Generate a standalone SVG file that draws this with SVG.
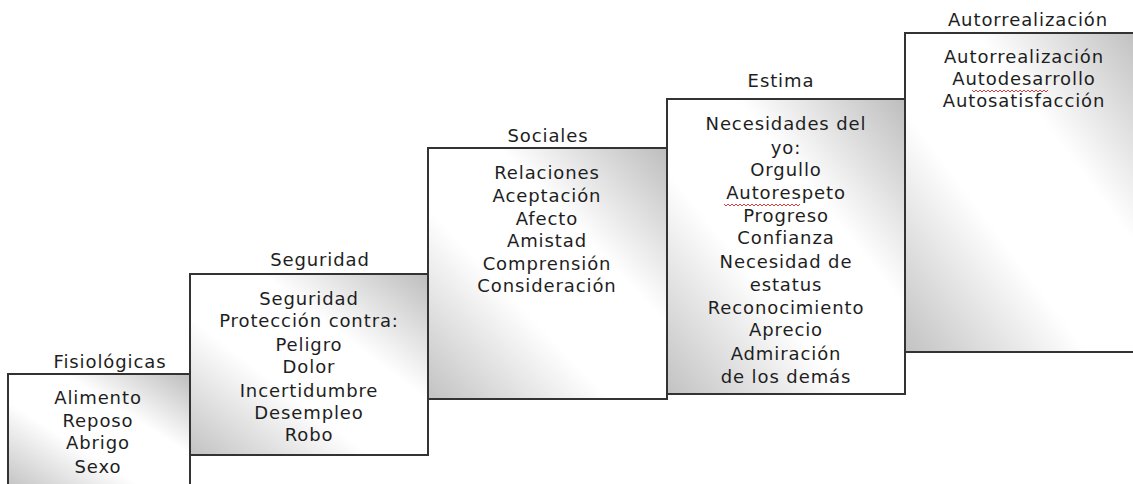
<svg xmlns="http://www.w3.org/2000/svg" width="1133" height="484" viewBox="0 0 1133 484">
<defs>
<linearGradient id="g" x1="1" y1="0" x2="0" y2="1">
<stop offset="0" stop-color="#bdbdbd"/>
<stop offset="0.35" stop-color="#ffffff"/>
<stop offset="0.62" stop-color="#ffffff"/>
<stop offset="1" stop-color="#c2c2c2"/>
</linearGradient>
</defs>
<style>
.box{fill:url(#g);stroke:#333;stroke-width:2}
text{font-family:"DejaVu Sans","Liberation Sans",sans-serif;font-size:18px;fill:#1e1e1e;text-anchor:middle;letter-spacing:0.9px}
.sq{fill:none;stroke:#d04040;stroke-width:1}
</style>
<rect width="1133" height="484" fill="#fff"/>
<g id="fisiologicas">
<rect class="box" x="8" y="374" width="182" height="115"/>
<text x="110" y="368">Fisiológicas</text>
<text x="98" y="404">Alimento</text>
<text x="98" y="427">Reposo</text>
<text x="98" y="449">Abrigo</text>
<text x="98" y="473">Sexo</text>
</g>
<g id="seguridad">
<rect class="box" x="190" y="274" width="238" height="181"/>
<text x="320" y="266">Seguridad</text>
<text x="309" y="305">Seguridad</text>
<text x="309" y="327">Protección contra:</text>
<text x="309" y="351">Peligro</text>
<text x="309" y="373">Dolor</text>
<text x="309" y="397">Incertidumbre</text>
<text x="309" y="419">Desempleo</text>
<text x="309" y="441">Robo</text>
</g>
<g id="sociales">
<rect class="box" x="428" y="148" width="239" height="251"/>
<text x="548" y="142">Sociales</text>
<text x="547" y="179">Relaciones</text>
<text x="547" y="202">Aceptación</text>
<text x="547" y="225">Afecto</text>
<text x="547" y="247">Amistad</text>
<text x="547" y="270">Comprensión</text>
<text x="547" y="292">Consideración</text>
</g>
<g id="estima">
<rect class="box" x="667" y="99" width="238" height="295"/>
<text x="781" y="87">Estima</text>
<text x="786" y="130">Necesidades del</text>
<text x="786" y="154">yo:</text>
<text x="786" y="176">Orgullo</text>
<text x="786" y="199">Autorespeto</text>
<path class="sq" d="M724 204 l2 2 l2 -2 l2 2 l2 -2 l2 2 l2 -2 l2 2 l2 -2 l2 2 l2 -2 l2 2 l2 -2 l2 2 l2 -2 l2 2 l2 -2 l2 2 l2 -2 l2 2 l2 -2 l2 2 l2 -2 l2 2 l2 -2 l2 2 l2 -2 l2 2 l2 -2 l2 2 l2 -2 l2 2 l2 -2 l2 2 l2 -2 l2 2 l2 -2 l2 2 l2 -2"/>
<text x="786" y="222">Progreso</text>
<text x="786" y="244">Confianza</text>
<text x="786" y="268">Necesidad de</text>
<text x="786" y="291">estatus</text>
<text x="786" y="314">Reconocimiento</text>
<text x="786" y="336">Aprecio</text>
<text x="786" y="360">Admiración</text>
<text x="786" y="383">de los demás</text>
</g>
<g id="autorrealizacion">
<rect class="box" x="905" y="33" width="240" height="319"/>
<text x="1028" y="26">Autorrealización</text>
<text x="1024" y="63">Autorrealización</text>
<text x="1024" y="85">Autodesarrollo</text>
<path class="sq" d="M972 90 l2 2 l2 -2 l2 2 l2 -2 l2 2 l2 -2 l2 2 l2 -2 l2 2 l2 -2 l2 2 l2 -2 l2 2 l2 -2 l2 2 l2 -2 l2 2 l2 -2 l2 2 l2 -2 l2 2 l2 -2 l2 2 l2 -2 l2 2 l2 -2 l2 2 l2 -2 l2 2 l2 -2 l2 2 l2 -2 l2 2 l2 -2 l2 2 l2 -2 l2 2 l2 -2"/>
<text x="1024" y="107">Autosatisfacción</text>
</g>
<g id="connectors"/>
</svg>
